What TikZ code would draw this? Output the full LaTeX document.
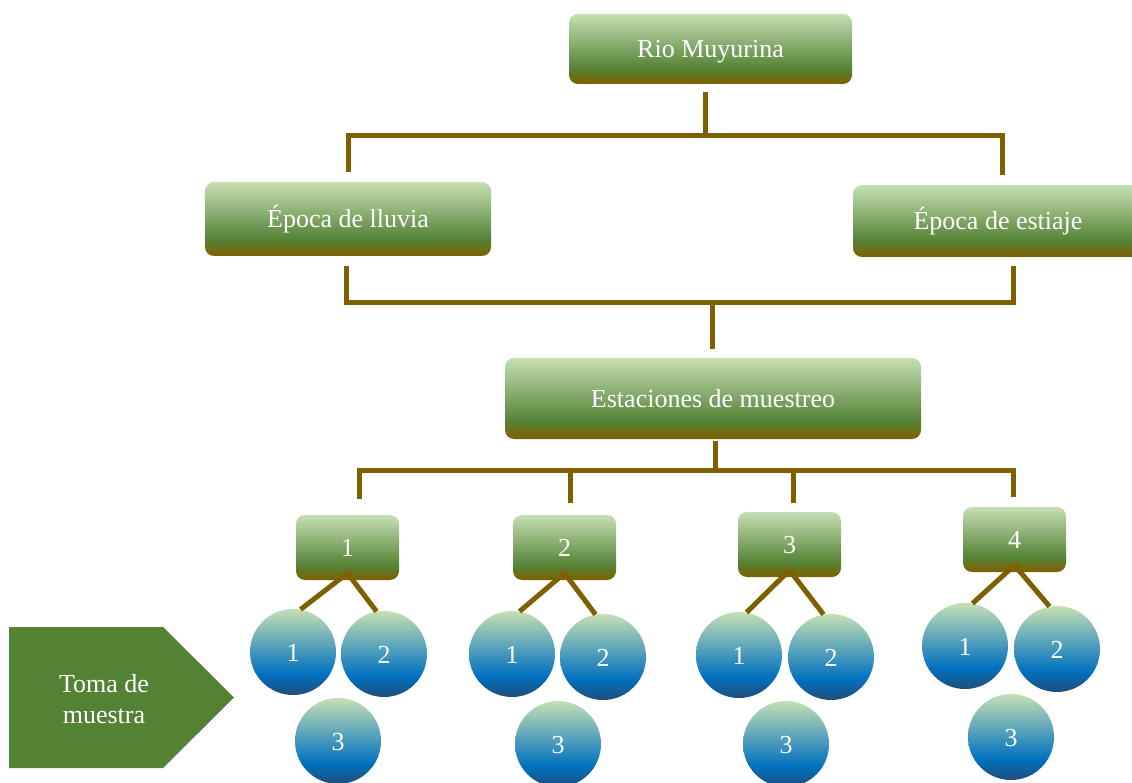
\documentclass[tikz,border=0pt]{standalone}
\usepackage{fontspec}
\setmainfont{Liberation Serif}

\definecolor{verdeclaro}{HTML}{C5E0B4}
\definecolor{verde}{HTML}{548235}
\definecolor{cafe}{HTML}{7F6000}
\definecolor{azul}{HTML}{0070C0}
\definecolor{azulosc}{HTML}{1F4E79}

\pgfdeclareverticalshading{cajaverde}{100bp}{color(0bp)=(cafe); color(25bp)=(cafe);
  color(36bp)=(verde); color(75bp)=(verdeclaro); color(100bp)=(verdeclaro)}
\pgfdeclareverticalshading{bolaazul}{100bp}{color(0bp)=(azulosc); color(25bp)=(azulosc);
  color(37bp)=(azul); color(75bp)=(verdeclaro); color(100bp)=(verdeclaro)}

\newcommand{\letra}{\fontsize{26}{31}\selectfont}

\begin{document}
\begin{tikzpicture}[x=1pt,y=-1pt,
  caja/.style={shading=cajaverde, rounded corners=9pt, text=white, inner sep=0pt,
    font=\letra, text height=24pt, text depth=6pt},
  chica/.style={caja, minimum width=103pt, minimum height=65pt},
  bola/.style={circle, shading=bolaazul, minimum size=86pt, inner sep=0pt,
    text=white, font=\letra, text height=20pt, text depth=1pt},
  conn/.style={draw=cafe, line width=5pt}]
  \useasboundingbox (0,0) rectangle (1132,783);

  % cajas
  \node[caja, minimum width=283pt, minimum height=70pt] (rio) at (710.5,49) {Rio Muyurina};
  \node[caja, minimum width=286pt, minimum height=74pt] (lluvia) at (348,219) {Época de lluvia};
  \node[caja, minimum width=290pt, minimum height=72pt] (estiaje) at (998,221) {Época de estiaje};
  \node[caja, minimum width=416pt, minimum height=81pt] (estaciones) at (713,398.5) {Estaciones de muestreo};

  \node[chica] (e1) at (347.5,547.5) {1};
  \node[chica] (e2) at (564.5,547.5) {2};
  \node[chica] (e3) at (789.5,544.5) {3};
  \node[chica] (e4) at (1014.5,539.5) {4};

  % muestras
  \node[bola] (c11) at (293,652) {1};
  \node[bola] (c12) at (384,654) {2};
  \node[bola] (c13) at (338,741) {3};
  \node[bola] (c21) at (512,654) {1};
  \node[bola] (c22) at (603,657) {2};
  \node[bola] (c23) at (558,744) {3};
  \node[bola] (c31) at (739,655) {1};
  \node[bola] (c32) at (831,657) {2};
  \node[bola] (c33) at (786,744) {3};
  \node[bola] (c41) at (965,646) {1};
  \node[bola] (c42) at (1057,649) {2};
  \node[bola] (c43) at (1011,737) {3};

  \fill[verde] (9,627) -- (163,627) -- (234,697.5) -- (163,768) -- (9,768) -- cycle;
  \node[align=center, text=white, font=\letra] (toma) at (104,699) {Toma de\\muestra};

  % lineas
  \draw[conn] ([xshift=-5pt,yshift=-8pt]rio.south) -- ++(0,43) coordinate (b1);
  \draw[conn] ([yshift=10pt]lluvia.north) |- (b1) -| ([xshift=4pt,yshift=10pt]estiaje.north);

  \coordinate (b2) at ([xshift=-1pt,yshift=55pt]estaciones.north);
  \draw[conn] ([xshift=-2pt,yshift=-10pt]lluvia.south) |- (b2) -| ([xshift=15pt,yshift=-9pt]estiaje.south);
  \draw[conn] (b2) -- ([xshift=-1pt,yshift=9pt]estaciones.north);

  \draw[conn] ([xshift=2pt,yshift=-2pt]estaciones.south) -- ++(0,29) coordinate (b3);
  \draw[conn] ([xshift=12pt,yshift=16pt]e1.north) |- (b3) -| ([xshift=-1pt,yshift=10pt]e4.north);
  \draw[conn] ([xshift=6pt,yshift=12pt]e2.north) |- (b3);
  \draw[conn] ([xshift=4pt,yshift=9pt]e3.north) |- (b3);

  \draw[conn] (c11.80) -- ([yshift=7pt]e1.south);
  \draw[conn] ([yshift=7pt]e1.south) -- (c12.100);
  \draw[conn] (c21.80) -- ([yshift=7pt]e2.south);
  \draw[conn] ([yshift=7pt]e2.south) -- (c22.100);
  \draw[conn] (c31.80) -- ([yshift=7pt]e3.south);
  \draw[conn] ([yshift=7pt]e3.south) -- (c32.100);
  \draw[conn] (c41.80) -- ([yshift=7pt]e4.south);
  \draw[conn] ([yshift=7pt]e4.south) -- (c42.100);
\end{tikzpicture}
\end{document}
